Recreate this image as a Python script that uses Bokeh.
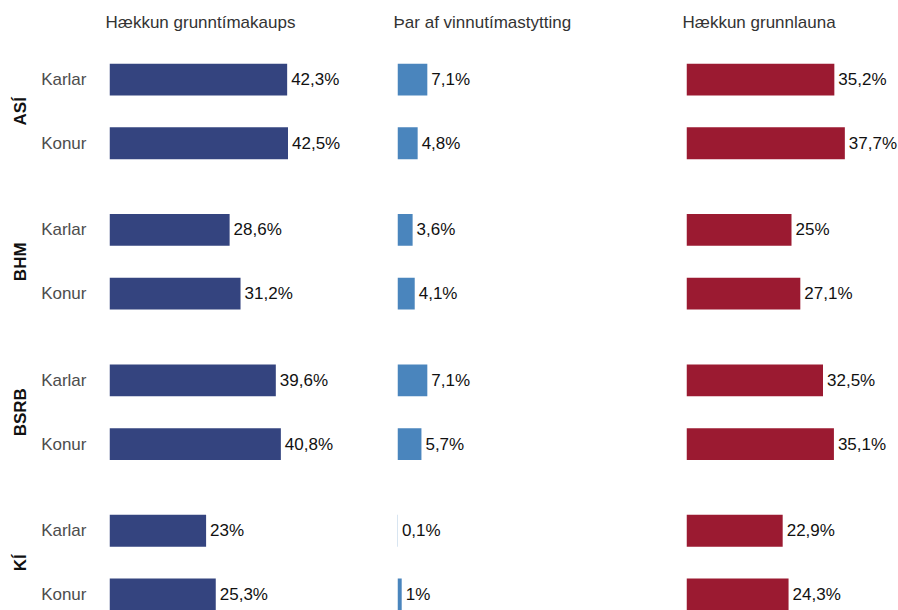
from bokeh.plotting import figure
from bokeh.models import FactorRange, Range1d, ColumnDataSource, CategoricalAxis, Title
from bokeh.layouts import row
from bokeh.embed import file_html
from bokeh.resources import INLINE
from bokeh.core.properties import value

# ---- data ----
groups = ["ASÍ", "BHM", "BSRB", "KÍ"]
sexes = ["Karlar", "Konur"]
panel_titles = ["Hækkun grunntímakaups", "Þar af vinnutímastytting", "Hækkun grunnlauna"]
grunntimakaup = [42.3, 42.5, 28.6, 31.2, 39.6, 40.8, 23.0, 25.3]
vinnutimastytting = [7.1, 4.8, 3.6, 4.1, 7.1, 5.7, 0.1, 1.0]
grunnlaun = [35.2, 37.7, 25.0, 27.1, 32.5, 35.1, 22.9, 24.3]
colors = ["#34447f", "#4a85bd", "#9b1a31"]

factors = [(g, s) for g in groups for s in sexes]
y_range = FactorRange(*reversed(factors), factor_padding=0.0, group_padding=0.36,
                      range_padding=-0.25, range_padding_units="absolute")

FONT = "Liberation Sans"
PX_PER_UNIT = 4.2
frame_widths = [284, 285, 212]
left_borders = [109, 4, 4]
H = 610
TOP = 63


def fmt(v):
    return ("%g" % v).replace(".", ",") + "%"


def style_axis(ax):
    ax.axis_line_color = None
    ax.major_tick_line_color = None
    ax.minor_tick_line_color = None
    ax.major_tick_out = 0
    ax.major_tick_in = 0
    ax.separator_line_color = None
    ax.major_label_text_font = FONT
    ax.major_label_text_font_size = "17px"
    ax.group_text_font = FONT
    ax.group_text_font_size = "17px"
    ax.group_text_font_style = "bold"


figs = []
series = [grunntimakaup, vinnutimastytting, grunnlaun]
for i, (vals, title, col, fw, lb) in enumerate(zip(series, panel_titles, colors, frame_widths, left_borders)):
    src = ColumnDataSource(dict(y=factors, v=vals, lab=[fmt(v) for v in vals]))
    p = figure(
        width=fw + lb, height=H,
        y_range=y_range, x_range=Range1d(0, fw / PX_PER_UNIT),
        output_backend="svg", toolbar_location=None,
        x_axis_location=None, y_axis_location="left" if i == 0 else None,
        min_border_left=lb, min_border_right=0,
        min_border_top=TOP, min_border_bottom=0,
        outline_line_color=None, title=None,
    )
    p.hbar(y="y", right="v", left=0, height=0.5, source=src,
           fill_color=col, line_color=None)
    p.text(x="v", y="y", text="lab", source=src, x_offset=4,
           text_baseline="middle", text_align="left",
           text_font=value(FONT), text_font_size="17px", text_color="#111111")
    p.grid.visible = False
    # spacer panel between the frame and the panel title (closest to frame)
    spacer = Title(text=" ", text_font=FONT, text_font_size="10px",
                   standoff=19, text_color="#ffffff")
    p.add_layout(spacer, "above")
    t = Title(text=title, text_font=FONT, text_font_size="17px",
              text_font_style="normal", text_color="#333333",
              align="left", offset=-4, standoff=0)
    p.add_layout(t, "above")
    if i == 0:
        # inner axis: Karlar / Konur
        ax = p.yaxis[0]
        style_axis(ax)
        ax.major_label_standoff = 23
        ax.major_label_text_color = "#4d4d4d"
        ax.group_text_color = None
        # outer axis: union names
        ax2 = CategoricalAxis()
        style_axis(ax2)
        ax2.major_label_standoff = 8
        ax2.major_label_text_color = None
        ax2.group_text_color = "#111111"
        p.add_layout(ax2, "left")
    figs.append(p)

layout = row(*figs)
open("out.html", "w").write(file_html(layout, INLINE))
